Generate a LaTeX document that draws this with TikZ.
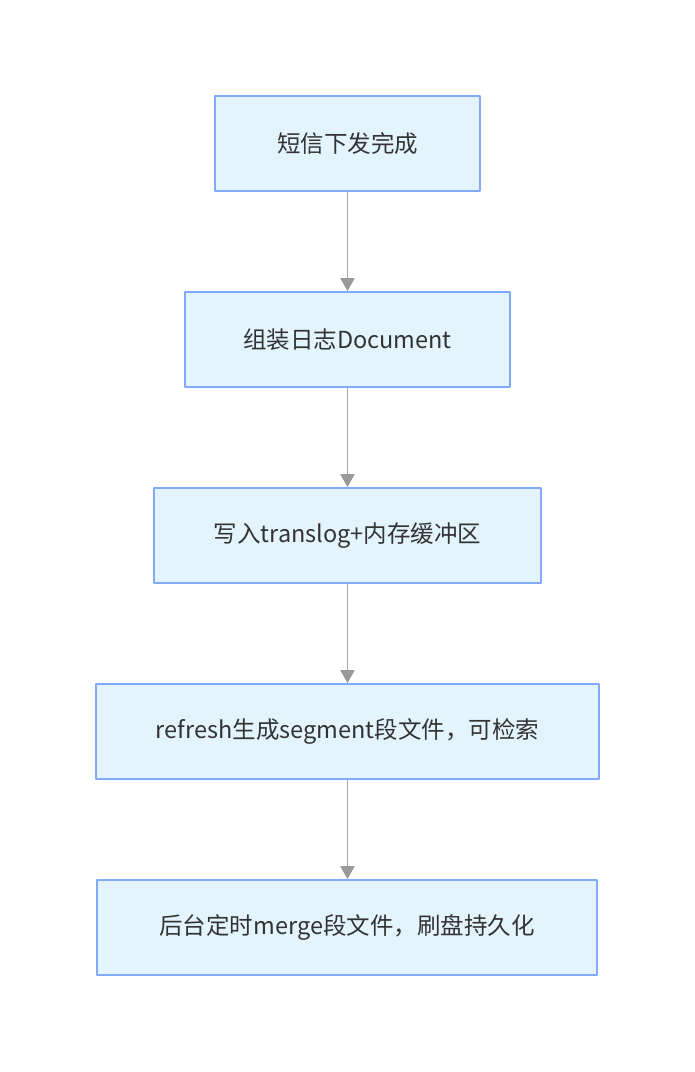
\documentclass[tikz,border=0pt]{standalone}
\usepackage{fontspec}
\setmainfont{Noto Sans CJK SC}
\usetikzlibrary{arrows.meta}
\definecolor{boxfill}{HTML}{E3F4FD}
\definecolor{boxline}{HTML}{83AAF8}
\definecolor{linkgray}{HTML}{A8A8A8}
\definecolor{tipgray}{HTML}{999999}
\definecolor{txt}{HTML}{333333}
\tikzset{
  stage/.style={rectangle, draw=boxline, line width=1.6pt, fill=boxfill,
    minimum height=95pt, inner sep=0pt, text=txt, font=\fontsize{23.5}{28}\selectfont},
  link/.style={draw=linkgray, line width=1.8pt,
    -{Triangle[width=14pt,length=13pt,fill=tipgray,color=tipgray]}}
}
\begin{document}
\begin{tikzpicture}[x=1pt, y=-1pt, line join=round]
	\useasboundingbox (0,0) rectangle (695,1072);
	\node[stage, minimum width=265pt] (send) at (347.5,143.5) {短信下发完成};
	\node[stage, minimum width=325pt] (build) at (347.5,339.5) {组装日志Document};
	\node[stage, minimum width=387pt] (write) at (347.5,535.5) {写入translog+内存缓冲区};
	\node[stage, minimum width=503pt] (refresh) at (347.5,731.5) {refresh生成segment段文件，可检索};
	\node[stage, minimum width=500pt] (merge) at (347,927.5) {后台定时merge段文件，刷盘持久化};
	% links
	\foreach \a/\b in {send/build, build/write, write/refresh, refresh/merge}
		\draw[link] (\a.south -| 347.5,0) -- (\b.north -| 347.5,0);
\end{tikzpicture}
\end{document}
